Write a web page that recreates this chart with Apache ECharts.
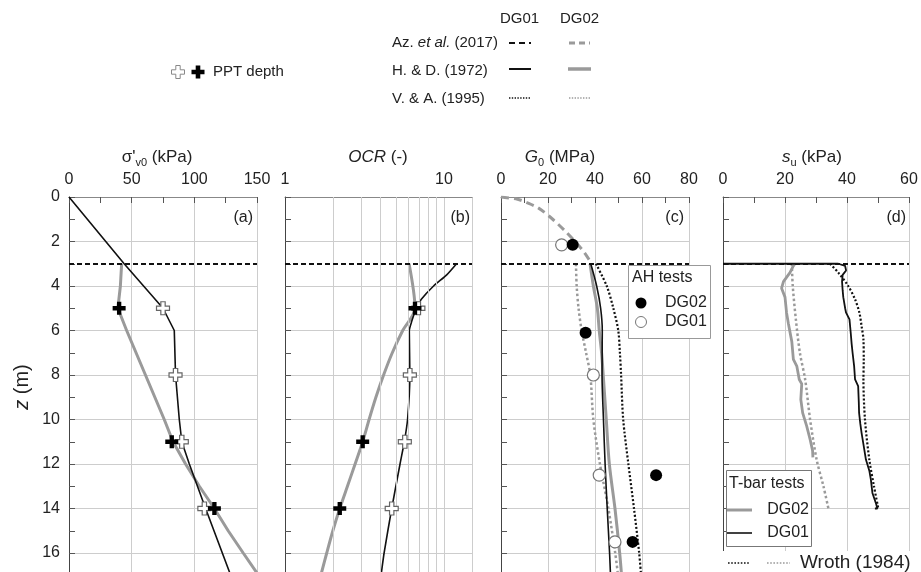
<!DOCTYPE html>
<html>
<head>
<meta charset="utf-8">
<script src="https://cdn.jsdelivr.net/npm/echarts@6.0.0/dist/echarts.min.js"></script>
<style>
html, body { margin: 0; padding: 0; background: #fff; }
#chart { width: 921px; height: 572px; }
</style>
</head>
<body>
<div id="chart"></div>
<script>
// depth profiles, every point is [value, z (m)]
const sigmaDG01 = [[0, 0], [44, 3], [75, 5], [84, 6], [85, 8], [88, 10], [90, 11], [96, 12], [109, 14], [129, 17]]
const sigmaDG02 = [[42, 3], [41, 4], [39, 5], [46, 6], [61, 8], [76, 10], [83, 11], [93, 12], [104, 13], [116, 14], [127, 15], [139, 16], [150, 16.9]]
const pptSigmaDG01 = [[75, 5], [85, 8], [90, 11], [108, 14]]
const pptSigmaDG02 = [[40, 5], [82, 11], [116, 14]]

const ocrDG01 = [[12.0, 3], [10.4, 3.5], [8.6, 4], [7.2, 4.6], [6.7, 5], [6.26, 5.6], [6.05, 6], [6.1, 8], [5.9, 10], [5.63, 11], [5.29, 12], [4.69, 14], [4.2, 16], [4.02, 17]]
const ocrDG02 = [[6.03, 3], [6.57, 5], [5.5, 6], [4.73, 7], [4.17, 8], [3.73, 9], [3.38, 10], [3.08, 11], [2.76, 12], [2.47, 13], [2.21, 14], [2.0, 15], [1.83, 16], [1.68, 17]]
const pptOcrDG01 = [[6.9, 5], [6.1, 8], [5.67, 11], [4.69, 14]]
const pptOcrDG02 = [[6.57, 5], [3.08, 11], [2.21, 14]]
const ocrMinorLines = [2, 3, 4, 5, 6, 7, 8, 9]

const g0AzDG02 = [[0, 0], [7, 0.1], [11, 0.25], [16, 0.5], [22, 1], [27, 1.5], [31.5, 2], [35.5, 2.5], [38.6, 3]]
const g0HdDG01 = [[38.2, 3], [40.7, 4], [42.4, 5], [43.1, 6], [43, 8], [43.6, 10], [44.3, 12], [45.2, 14], [46.2, 16], [46.6, 17]]
const g0HdDG02 = [[37.9, 3], [39.3, 4], [41, 5], [41.8, 6], [42.8, 7], [43.5, 8], [44.8, 10], [46.1, 12], [48.5, 14], [50.5, 16], [51.3, 17]]
const g0VaDG01 = [[40.4, 3], [45, 4], [47.8, 5], [49.9, 6], [50.6, 7], [51.1, 8], [52, 10], [54.2, 12], [56.6, 14], [58.8, 16], [59.6, 17]]
const g0VaDG02 = [[31.9, 3], [32.2, 4], [33, 5], [34.3, 6], [36.2, 7], [38, 8], [39.3, 10], [42.1, 12], [45.7, 14], [48.6, 16], [49.8, 17]]
const ahDG02 = [[30.5, 2.15], [36, 6.1], [66, 12.5], [56, 15.5]]
const ahDG01 = [[25.8, 2.15], [39.3, 8], [41.8, 12.5], [48.5, 15.5]]

const tbarDG01 = [[0, 3], [37.2, 3], [39.4, 3.1], [39.7, 3.3], [38.6, 3.5], [38.4, 3.8], [38.6, 4.2], [38.8, 4.5], [39.4, 5], [39.7, 5.2],
  [40.8, 5.5], [41.2, 6.1], [41.5, 6.6], [41.8, 7], [42.3, 7.6], [42.6, 8.2], [43.6, 8.5], [43.8, 9.2], [43.9, 9.7], [44.3, 10.2],
  [44.7, 10.6], [45.4, 11.2], [46.1, 11.8], [47.2, 12.3], [47.7, 12.7], [48.2, 13.3], [49.4, 13.8], [49.8, 14], [49, 14]]
const tbarDG02 = [[23.2, 3], [22.7, 3.1], [21.6, 3.4], [19.5, 3.8], [18.9, 4.1], [20, 4.5], [20.5, 5.2], [21.1, 5.7], [22.2, 6.5],
  [22.7, 7.3], [23.8, 7.6], [24.6, 8.2], [25.4, 8.4], [25.1, 9.1], [25.7, 9.7], [27, 10.3], [28.1, 10.9], [28.9, 11.4], [29, 11.7]]
const wrothDG01 = [[34.5, 3], [37.2, 3.4], [40.4, 4], [42.6, 4.6], [44, 5.2], [44.7, 5.8], [45.3, 6.4], [45.4, 7.3], [45.3, 8.2], [45.8, 10], [47.2, 11.8], [48.7, 13], [50.1, 14]]
const wrothDG02 = [[22.2, 3], [22.5, 4], [23.5, 5.5], [24.8, 7], [26.5, 8.2], [28.1, 10], [30.2, 11.8], [32.4, 13], [34, 14]]

const crustDepth = 3

const FONT = '"Liberation Sans", Arial, sans-serif'
const BLACK = '#111'
const GRAY = '#9a9a9a'
const GRID = '#cdcdcd'
const AXIS = '#555'
const TEXT = '#222'
const CROSS = 'path://M4,0H8V4H12V8H8V12H4V8H0V4H4Z'

const panels = [
  { left: 69, width: 188 },
  { left: 285, width: 187 },
  { left: 501, width: 188 },
  { left: 723, width: 186 }
]

const linAxis = (i, max, interval) => ({
  type: 'value', gridIndex: i, position: 'top', min: 0, max, interval,
  axisLine: { show: true, lineStyle: { color: '#888' } },
  axisTick: { show: true, inside: true, length: 6, lineStyle: { color: AXIS } },
  minorTick: { show: true, splitNumber: 2, length: 6, lineStyle: { color: AXIS } },
  splitLine: { show: true, lineStyle: { color: GRID } },
  axisLabel: { fontSize: 16, color: TEXT, fontFamily: FONT, margin: 9 }
})

const yAxisFor = (i) => ({
  type: 'value', gridIndex: i, inverse: true, min: 0, max: 18, interval: 2,
  axisLine: { show: true, lineStyle: { color: '#444' } },
  axisTick: { show: true, inside: true, length: 6, lineStyle: { color: AXIS } },
  minorTick: { show: true, splitNumber: 2, length: 6, lineStyle: { color: AXIS } },
  splitLine: { show: true, lineStyle: { color: GRID } },
  axisLabel: { show: i === 0, fontSize: 16, color: TEXT, fontFamily: FONT, margin: 9 }
})

const profile = (i, data, color, width, type, smooth) => ({
  type: 'line', xAxisIndex: i, yAxisIndex: i, data, symbol: 'none', showSymbol: false,
  smooth: smooth || false, silent: true, z: 3,
  lineStyle: { color, width, type: type || 'solid' }
})

const markers = (i, data, symbol, size, fill, border) => ({
  type: 'scatter', xAxisIndex: i, yAxisIndex: i, data, symbol, symbolSize: size, silent: true, z: 6,
  itemStyle: { color: fill, borderColor: border, borderWidth: border ? 1.2 : 0, opacity: 1 }
})

const crustLine = (i) => ({
  type: 'line', xAxisIndex: i, yAxisIndex: i, data: [], z: 5, silent: true,
  markLine: {
    silent: true, symbol: ['none', 'none'], label: { show: false }, animation: false,
    lineStyle: { color: BLACK, type: [5, 3], width: 1.8 },
    data: [{ yAxis: crustDepth }]
  }
})

const series = [
  // (a)
  profile(0, sigmaDG02, GRAY, 3),
  profile(0, sigmaDG01, BLACK, 1.6),
  markers(0, pptSigmaDG01, CROSS, 13, '#fff', '#666'),
  markers(0, pptSigmaDG02, CROSS, 13, '#000'),
  // (b)
  {
    type: 'line', xAxisIndex: 1, yAxisIndex: 1, data: [], z: 1, silent: true,
    markLine: {
      silent: true, symbol: ['none', 'none'], label: { show: false }, animation: false,
      lineStyle: { color: GRID, type: 'solid', width: 1 },
      data: ocrMinorLines.map(v => ({ xAxis: v }))
    }
  },
  profile(1, ocrDG02, GRAY, 3, 'solid', 0.3),
  profile(1, ocrDG01, BLACK, 1.6, 'solid', 0.2),
  markers(1, pptOcrDG01, CROSS, 13, '#fff', '#666'),
  markers(1, pptOcrDG02, CROSS, 13, '#000'),
  // (c)
  profile(2, g0AzDG02, GRAY, 3, [8, 5], 0.3),
  profile(2, g0VaDG02, GRAY, 2.5, [2.5, 2.5], 0.3),
  profile(2, g0HdDG02, GRAY, 3, 'solid', 0.3),
  profile(2, g0HdDG01, BLACK, 1.6, 'solid', 0.3),
  profile(2, g0VaDG01, BLACK, 2.2, [2, 2], 0.3),
  markers(2, ahDG01, 'circle', 12, '#fff', '#777'),
  markers(2, ahDG02, 'circle', 12, '#000'),
  // (d)
  profile(3, wrothDG02, GRAY, 2.5, [2.5, 2.5], 0.3),
  profile(3, wrothDG01, BLACK, 2.2, [2, 2], 0.3),
  profile(3, tbarDG02, GRAY, 2.8),
  profile(3, tbarDG01, BLACK, 1.8)
]
panels.forEach((p, i) => series.push(crustLine(i)))

const plus = (cx, cy, a, t) => [
  [cx - t, cy - a], [cx + t, cy - a], [cx + t, cy - t], [cx + a, cy - t], [cx + a, cy + t], [cx + t, cy + t],
  [cx + t, cy + a], [cx - t, cy + a], [cx - t, cy + t], [cx - a, cy + t], [cx - a, cy - t], [cx - t, cy - t]
]

const txt = (x, y, text, style) => ({
  type: 'text', x, y, z: 100,
  style: Object.assign({ text, font: '16px ' + FONT, fill: TEXT, verticalAlign: 'middle', align: 'left' }, style || {})
})

const seg = (x1, y1, x2, y2, color, width, dash) => ({
  type: 'line', z: 100, shape: { x1, y1, x2, y2 },
  style: { stroke: color, lineWidth: width, lineDash: dash || null }
})

const richTitle = (x, text) => ({
  type: 'text', x, y: 157, z: 100,
  style: {
    text, align: 'center', verticalAlign: 'middle', fill: TEXT,
    rich: {
      n: { fontSize: 17, fontFamily: FONT, lineHeight: 22, fill: TEXT },
      i: { fontSize: 17, fontFamily: FONT, fontStyle: 'italic', lineHeight: 22, fill: TEXT },
      s: { fontSize: 11, fontFamily: FONT, lineHeight: 22, verticalAlign: 'bottom', fill: TEXT }
    }
  }
})

const LEG = { font: '15px ' + FONT }
const graphic = [
  // top legend
  txt(500, 19, 'DG01', LEG),
  txt(560, 19, 'DG02', LEG),
  {
    type: 'text', x: 392, y: 43, z: 100,
    style: {
      text: '{n|Az. }{i|et al.}{n| (2017)}', verticalAlign: 'middle',
      rich: {
        n: { fontSize: 15, fontFamily: FONT, fill: TEXT },
        i: { fontSize: 15, fontFamily: FONT, fontStyle: 'italic', fill: TEXT }
      }
    }
  },
  txt(392, 71, 'H. & D. (1972)', LEG),
  txt(392, 99, 'V. & A. (1995)', LEG),
  seg(509, 43, 531, 43, BLACK, 2, [6, 4]),
  seg(569, 43, 590, 43, GRAY, 3, [6, 4]),
  seg(509, 69, 531, 69, BLACK, 2),
  seg(568, 69, 591, 69, GRAY, 3.5),
  seg(509, 98, 530, 98, BLACK, 1.4, [1.4, 1.4]),
  seg(569, 98, 590, 98, GRAY, 1.4, [1.4, 1.4]),
  { type: 'polygon', z: 100, shape: { points: plus(178, 72, 6.5, 2.2) }, style: { fill: '#fff', stroke: '#888', lineWidth: 1 } },
  { type: 'polygon', z: 100, shape: { points: plus(198, 72, 6.5, 2.3) }, style: { fill: '#000' } },
  txt(213, 72, 'PPT depth', LEG),
  // panel titles
  richTitle(157, "{n|σ'}{s|v0}{n| (kPa)}"),
  richTitle(378, '{i|OCR}{n| (-)}'),
  richTitle(560, '{i|G}{s|0}{n| (MPa)}'),
  richTitle(812, '{i|s}{s|u}{n| (kPa)}'),
  {
    type: 'text', x: 22, y: 387, rotation: Math.PI / 2, z: 100,
    style: {
      text: '{i|z}{n| (m)}', align: 'center', verticalAlign: 'middle',
      rich: {
        n: { fontSize: 20, fontFamily: FONT, fill: TEXT },
        i: { fontSize: 20, fontFamily: FONT, fontStyle: 'italic', fill: TEXT }
      }
    }
  },
  // panel tags
  txt(253, 218, '(a)', { align: 'right' }),
  txt(470, 218, '(b)', { align: 'right' }),
  txt(684, 218, '(c)', { align: 'right' }),
  txt(906, 218, '(d)', { align: 'right' }),
  // AH legend
  { type: 'rect', z: 100, shape: { x: 628.5, y: 265.5, width: 82, height: 73 }, style: { fill: '#fff', stroke: '#999', lineWidth: 1 } },
  txt(632, 278, 'AH tests'),
  { type: 'circle', z: 101, shape: { cx: 641, cy: 303, r: 5.5 }, style: { fill: '#000' } },
  txt(665, 303, 'DG02'),
  { type: 'circle', z: 101, shape: { cx: 641, cy: 322, r: 5.5 }, style: { fill: '#fff', stroke: '#777', lineWidth: 1 } },
  txt(665, 322, 'DG01'),
  // T-bar legend
  { type: 'rect', z: 100, shape: { x: 726.5, y: 470.5, width: 85, height: 76 }, style: { fill: '#fff', stroke: '#777', lineWidth: 1 } },
  txt(729, 484, 'T-bar tests'),
  seg(727, 510, 752, 510, GRAY, 3),
  txt(809, 510, 'DG02', { align: 'right' }),
  seg(727, 533, 752, 533, BLACK, 1.6),
  txt(809, 533, 'DG01', { align: 'right' }),
  // Wroth row
  { type: 'rect', z: 100, shape: { x: 722, y: 551, width: 199, height: 21 }, style: { fill: '#fff' } },
  seg(728, 563, 749, 563, BLACK, 1.6, [1.6, 1.6]),
  seg(767, 563, 790, 563, GRAY, 1.6, [1.6, 1.6]),
  txt(800, 563, 'Wroth (1984)', { font: '19px ' + FONT })
]

const chart = echarts.init(document.getElementById('chart'), null, { renderer: 'canvas' })
chart.setOption({
  animation: false,
  backgroundColor: '#fff',
  grid: panels.map(p => ({ left: p.left, width: p.width, top: 197, height: 400.5, containLabel: false, outerBoundsMode: 'none' })),
  xAxis: [
    linAxis(0, 150, 50),
    {
      type: 'log', logBase: 10, gridIndex: 1, position: 'top', min: 1, max: 15,
      axisLine: { show: true, lineStyle: { color: '#888' } },
      axisTick: { show: false },
      splitLine: { show: true, lineStyle: { color: GRID } },
      axisLabel: { fontSize: 16, color: TEXT, fontFamily: FONT, margin: 9, showMaxLabel: false }
    },
    linAxis(2, 80, 20),
    linAxis(3, 60, 20)
  ],
  yAxis: panels.map((p, i) => yAxisFor(i)),
  series,
  graphic
})
</script>
</body>
</html>
